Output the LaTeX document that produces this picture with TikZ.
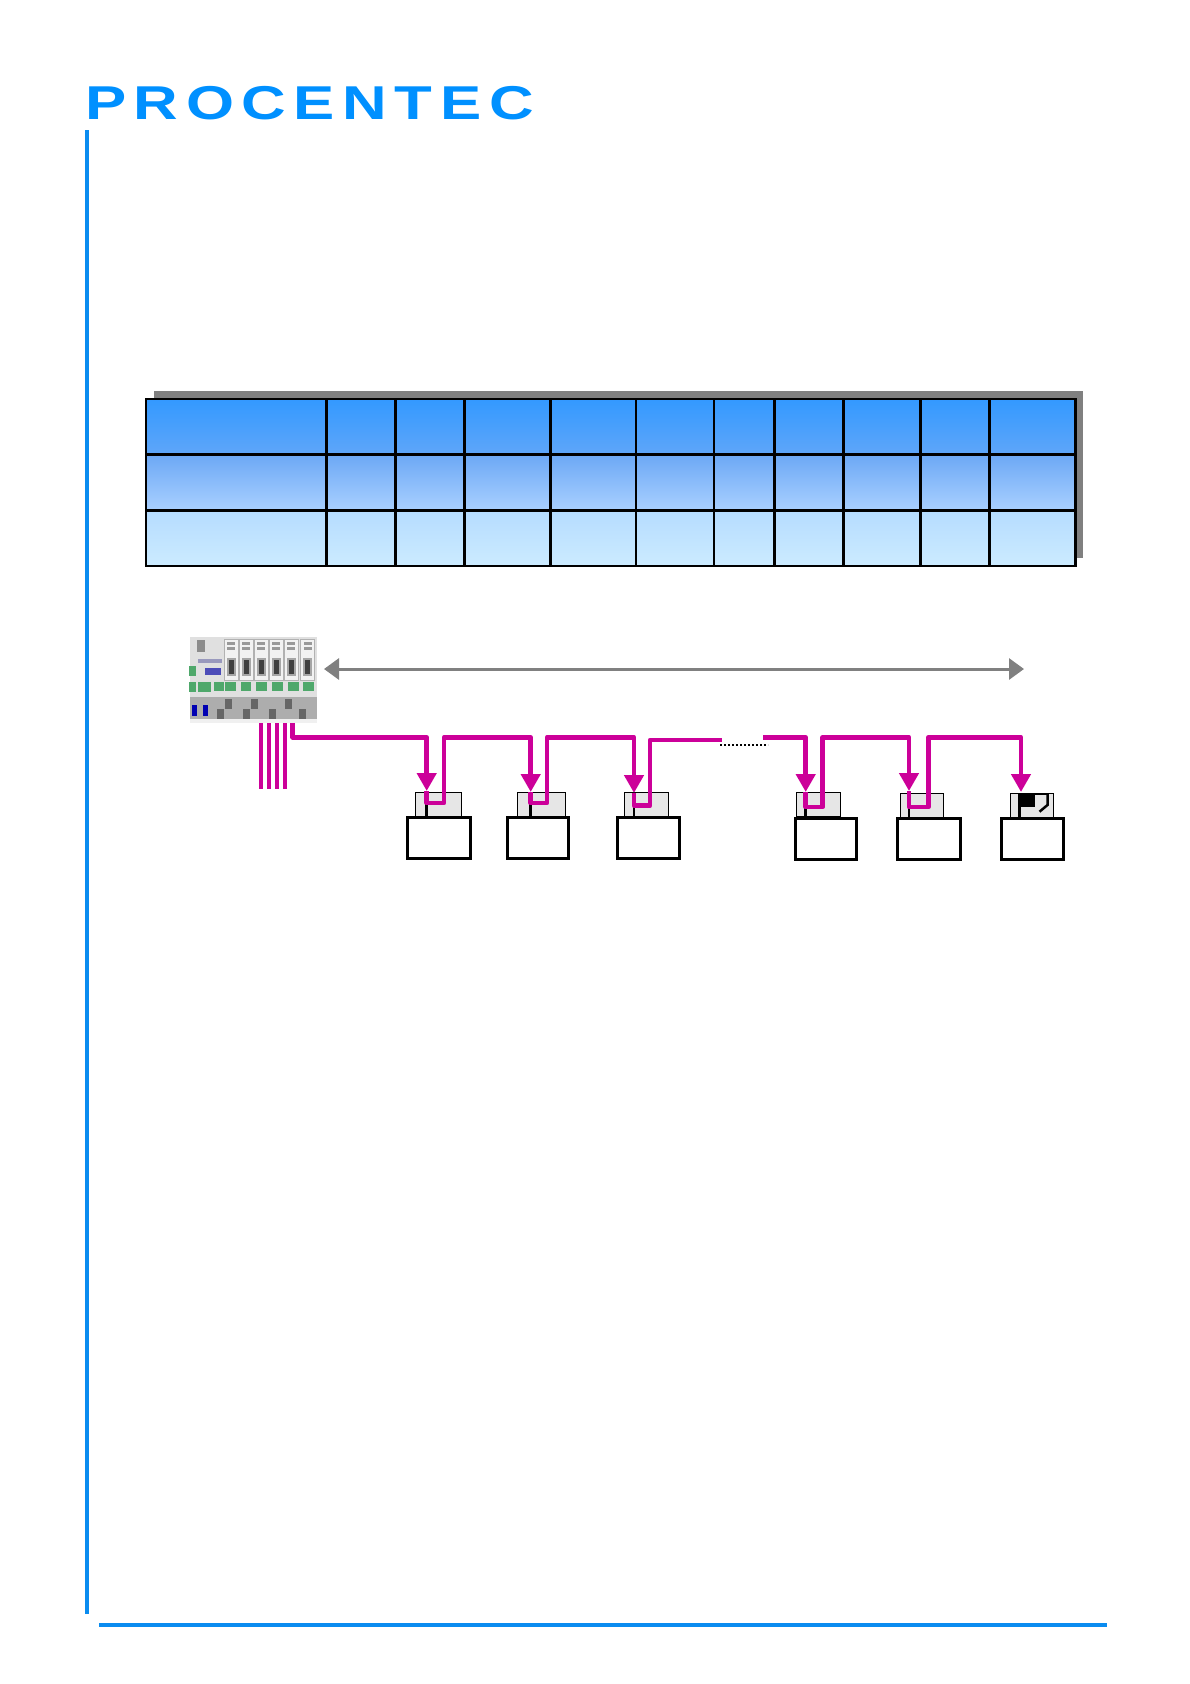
\documentclass[tikz,border=0pt]{standalone}
\usepackage{fontspec}
\usetikzlibrary{arrows.meta}
\newfontfamily\logofont[FakeStretch=1.3,LetterSpace=16]{Liberation Sans}
\definecolor{logoblue}{HTML}{0090FF}
\definecolor{ruleblue}{HTML}{0A8CF0}
\definecolor{busmagenta}{HTML}{CC0099}
\definecolor{shadowgrey}{HTML}{808080}
\definecolor{plugfill}{HTML}{E6E6E6}
\definecolor{termgreen}{HTML}{4FA86B}
\tikzset{
    logotext/.style={text=logoblue, font=\logofont\bfseries\fontsize{47.5}{47.5}\selectfont, inner sep=0pt},
    plugbox/.style={draw=black, line width=1pt, fill=plugfill, minimum height=24.4pt, inner sep=0pt, outer sep=0pt},
    devbox/.style={draw=black, line width=3pt, fill=white, minimum height=41.5pt, inner sep=0pt, outer sep=0pt},
    hubpanel/.style={fill=black!12, minimum width=127pt, minimum height=86pt, inner sep=0pt, outer sep=0pt},
    bus/.style={draw=busmagenta, line width=4.6pt, line join=round},
    busarrow/.style={-{Triangle[width=19pt,length=18pt]}},
    stub/.style={draw=black, line width=2.5pt},
    cellline/.style={line width=2.6pt},
}
\begin{document}
\begin{tikzpicture}[x=1pt, y=-1pt]
    \useasboundingbox (0,0) rectangle (1190,1684);

    \node[logotext, anchor=base west] (logo) at (85,119) {PROCENTEC};
    \fill[ruleblue] (85,130) rectangle (89,1613.7);
    \fill[ruleblue] (98.7,1622.8) rectangle (1107,1627);

    \fill[shadowgrey] (154,391) rectangle (1082.7,557.7);
    \shade[top color={rgb,255:red,51;green,153;blue,255}, bottom color={rgb,255:red,95;green,166;blue,249}] (146,399) rectangle (1075.7,454.5);
    \shade[top color={rgb,255:red,108;green,168;blue,245}, bottom color={rgb,255:red,169;green,208;blue,255}] (146,454.5) rectangle (1075.7,510.3);
    \shade[top color={rgb,255:red,181;green,220;blue,255}, bottom color={rgb,255:red,204;green,235;blue,255}] (146,510.3) rectangle (1075.7,565.8);
    \draw[cellline] (146,399) rectangle (1075.7,565.8);
    \foreach \y in {454.5,510.3}
        \draw[cellline] (146,\y) -- (1075.7,\y);
    \foreach \x in {326.7,395.7,464.3,550.7,636,714,774.7,843.3,920.7,989.7}
        \draw[cellline] (\x,399) -- (\x,565.8);

    \node[hubpanel] (hub) at (253.5,680) {};
    \fill[black!32] (190,697) rectangle (317,719);
    \fill[black!6] (190,719) rectangle (317,723);
    \foreach \x in {231,246,261,276,291.3,307.7} {
        \fill[black!5] (\x-6.5,640) rectangle (\x+6.5,680);
        \draw[black!30, line width=0.6pt] (\x-7,639) rectangle (\x+7,680);
        \fill[black!35] (\x-4.5,658) rectangle (\x+4.5,676);
        \fill[black!75] (\x-2.5,660) rectangle (\x+2.5,674);
        \fill[black!40] (\x-4,641.5) rectangle (\x+4,645);
        \fill[black!40] (\x-4,647) rectangle (\x+4,649.5);
    }
    \foreach \xa/\xb/\ya/\yb in {189/196/666/676,189/196/682/692,198/211/682/692,214/224/682/691,225/236/682/691,241/251/682/691,256/267/682/691,272/283/682/691,288/299/682/691,303/314/682/691}
        \fill[termgreen] (\xa,\ya) rectangle (\xb,\yb);
    \fill[blue!60!black!70!white] (205,668) rectangle (221,675);
    \fill[black!45] (197,640) rectangle (205,652);
    \fill[blue!35!black!40!white] (198,659) rectangle (222,663);
    \foreach \x in {194,205}
        \fill[blue!70!black] (\x-2.5,705) rectangle (\x+2.5,716);
    \foreach \x/\y in {228/704,254/704,288/704,220/714,246/714,272/714,302/714}
        \fill[black!60] (\x-3.5,\y-5) rectangle (\x+3.5,\y+5);

    \foreach \n/\xpos/\wid/\yy in {1/438.5/46.4/804.5,2/541.2/47.7/804.5,3/646.3/44/805,4/818.7/44/804.7,5/922/43.4/805.5,6/1032.2/43/805.5}
        \node[plugbox, minimum width=\wid pt] (plug\n) at (\xpos,\yy) {};
    \foreach \n/\xpos/\wid/\yy in {1/438.9/62.4/838,2/537.5/61/838,3/648/62/838,4/825.9/61.8/839,5/928.9/62.4/839,6/1032/62/839}
        \node[devbox, minimum width=\wid pt] (dev\n) at (\xpos,\yy) {};

    \foreach \n/\xin/\xout/\ytip/\ylow/\ytop in {1/426.7/444/791/803/737.3,2/530.7/547/792/803/737.3,3/634/650/793/805.7/740,4/805.7/822.7/792/807/737.3,5/909/928.3/791/807/737.3,6/1021/1021/792/807/737.3} {
        \coordinate (tip\n) at (\xin,\ytip);
        \coordinate (low\n) at (\xin,\ylow);
        \coordinate (top\n) at (\xout,\ytop);
    }
    \foreach \n in {1,2,3,4,5}
        \draw[stub] (low\n) -- (low\n |- dev\n.north);

    \foreach \x in {261,269,277,285} {
        \coordinate (drop\x) at (\x,789);
        \draw[bus] (drop\x |- hub.south) -- (drop\x);
    }
    \coordinate (hubout) at (292.7,737.3);
    \coordinate (gapleft) at (721.7,740);
    \coordinate (gapright) at (763.3,737.3);
    \coordinate (dotleft) at (720,744.7);
    \coordinate (dotright) at (768,744.7);
    \draw[bus, busarrow] (hubout |- hub.south) -- (hubout) -| (tip1);
    \draw[bus, busarrow] (tip1) -- (low1) -| (top1) -| (tip2);
    \draw[bus, busarrow] (tip2) -- (low2) -| (top2) -| (tip3);
    \draw[bus] (tip3) -- (low3) -| (top3) -- (gapleft);
    \draw[black, line width=2pt, dash pattern=on 2pt off 2pt] (dotleft) -- (dotright);
    \draw[bus, busarrow] (gapright) -| (tip4);
    \draw[bus, busarrow] (tip4) -- (low4) -| (top4) -| (tip5);
    \draw[bus, busarrow] (tip5) -- (low5) -| (top5) -| (tip6);

    \fill[black] (1018,794) rectangle (1035,806.7);
    \draw[line width=1pt] (1035,794.5) -- (1047,794.5);
    \draw[stub] (1019.3,800) -- (1019.3,816.7);
    \draw[stub] (1047.5,794) -- (1047.5,805) -- (1039.5,811.7);

    \coordinate (spanleft) at (324,669);
    \coordinate (spanright) at (1024,669);
    \draw[draw=shadowgrey, fill=shadowgrey, line width=3pt, {Triangle[width=21pt,length=15pt]}-{Triangle[width=21pt,length=15pt]}] (spanleft) -- (spanright);
\end{tikzpicture}
\end{document}
